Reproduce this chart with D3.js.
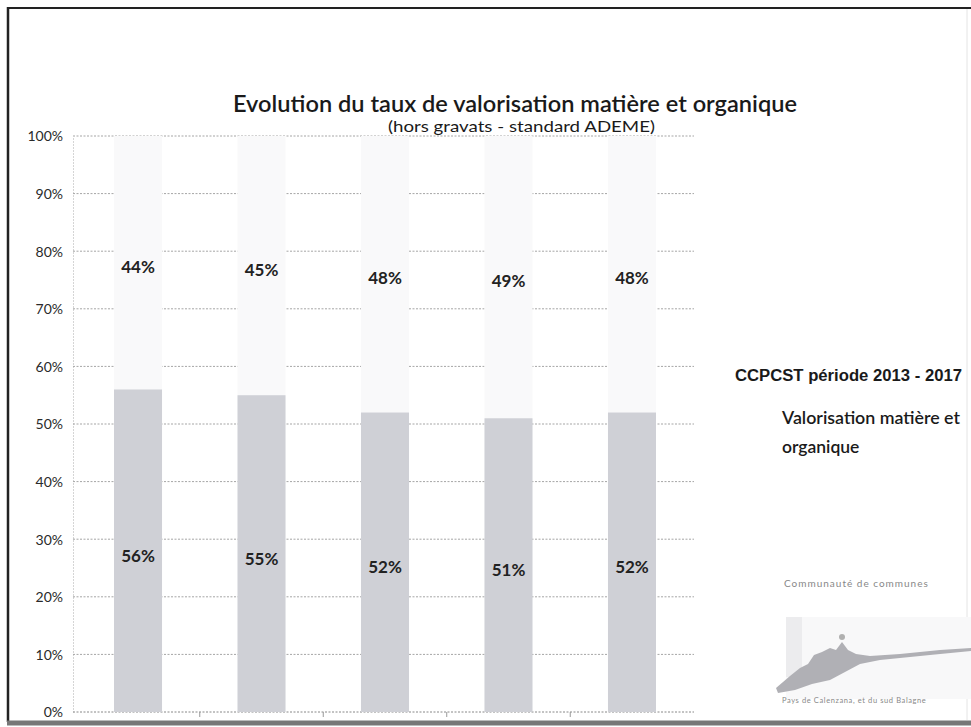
<!DOCTYPE html>
<html>
<head>
<meta charset="utf-8">
<script src="https://cdn.jsdelivr.net/npm/d3@7"></script>
<style>
  body { margin: 0; background: #fff; }
  svg { display: block; }
</style>
</head>
<body>
<svg id="chart"></svg>
<script>
// values
let years = ['2013', '2014', '2015', '2016', '2017'];
let valorisation = [56, 55, 52, 51, 52];
let reste = [44, 45, 48, 49, 48];
let yTicks = [0, 10, 20, 30, 40, 50, 60, 70, 80, 90, 100];

let W = 971, H = 727;
let svg = d3.select('#chart').attr('width', W).attr('height', H);
let font = 'Lato, "Open Sans", sans-serif';

// frame of the scanned page
svg.append('line').attr('x1', 7).attr('x2', W).attr('y1', 8).attr('y2', 8)
   .attr('stroke', '#222').attr('stroke-width', 2);
svg.append('line').attr('x1', 8).attr('x2', 8).attr('y1', 7).attr('y2', 722)
   .attr('stroke', '#222').attr('stroke-width', 2.5);
svg.append('line').attr('x1', 7).attr('x2', W).attr('y1', 723).attr('y2', 723)
   .attr('stroke', '#777').attr('stroke-width', 5);
svg.append('line').attr('x1', 967).attr('x2', 967).attr('y1', 9).attr('y2', 720)
   .attr('stroke', '#e4e4e4').attr('stroke-width', 1);

let x = d3.scaleBand().domain(years).range([73, 697]).paddingInner(0.611).paddingOuter(0.332);
let y = d3.scaleLinear().domain([0, 100]).range([712, 136]);

// gridlines
svg.append('g').selectAll('line').data(yTicks).enter().append('line')
   .attr('x1', 73).attr('x2', 694)
   .attr('y1', d => y(d)).attr('y2', d => y(d))
   .attr('stroke', (d) => d === 0 ? '#888' : '#a5a5a5')
   .attr('stroke-width', 1)
   .attr('stroke-dasharray', '2,1.5');

// y axis
let yAxis = d3.axisLeft(y).tickValues(yTicks).tickFormat(d => d + '%').tickSize(0).tickPadding(10);
let gy = svg.append('g').attr('transform', 'translate(73,0)').call(yAxis);
gy.select('.domain').attr('stroke', '#aaa').attr('stroke-dasharray', '1,2');
gy.selectAll('text').style('font-family', font).style('font-size', '14px')
  .style('fill', '#2a2a2a').attr('dy', '0.35em');

// small ticks on the x axis between bars
svg.append('g').selectAll('line').data(years.slice(1)).enter().append('line')
   .attr('x1', d => x(d) - x.step() * x.paddingInner() / 2)
   .attr('x2', d => x(d) - x.step() * x.paddingInner() / 2)
   .attr('y1', 712).attr('y2', 717)
   .attr('stroke', '#999');

// bars
svg.append('g').selectAll('rect').data(years).enter().append('rect')
   .attr('x', d => x(d))
   .attr('width', x.bandwidth())
   .attr('y', (d, i) => y(valorisation[i] + reste[i]))
   .attr('height', (d, i) => y(valorisation[i]) - y(valorisation[i] + reste[i]))
   .attr('fill', '#f9f9fa');

svg.append('g').selectAll('rect').data(years).enter().append('rect')
   .attr('x', d => x(d))
   .attr('width', x.bandwidth())
   .attr('y', (d, i) => y(valorisation[i]))
   .attr('height', (d, i) => y(0) - y(valorisation[i]))
   .attr('fill', '#cfd0d6');

// value labels
svg.append('g').selectAll('text').data(years).enter().append('text')
   .attr('x', d => x(d) + x.bandwidth() / 2)
   .attr('y', (d, i) => y(valorisation[i] / 2) + 11)
   .attr('text-anchor', 'middle')
   .style('font-family', font).style('font-weight', 'bold').style('font-size', '17px')
   .attr('fill', '#222')
   .text((d, i) => valorisation[i] + '%');

svg.append('g').selectAll('text').data(years).enter().append('text')
   .attr('x', d => x(d) + x.bandwidth() / 2)
   .attr('y', (d, i) => y(valorisation[i] + reste[i] / 2) + 10)
   .attr('text-anchor', 'middle')
   .style('font-family', font).style('font-weight', 'bold').style('font-size', '17px')
   .attr('fill', '#222')
   .text((d, i) => reste[i] + '%');

// titles
svg.append('text').attr('x', 233).attr('y', 112)
   .attr('textLength', 564).attr('lengthAdjust', 'spacingAndGlyphs')
   .style('font-family', font).style('font-size', '22px').style('font-weight', '600')
   .attr('fill', '#1a1a1a')
   .text('Evolution du taux de valorisation matière et organique');
svg.append('text').attr('x', 388).attr('y', 132)
   .attr('textLength', 267).attr('lengthAdjust', 'spacingAndGlyphs')
   .style('font-family', font).style('font-size', '16px')
   .attr('fill', '#1a1a1a')
   .text('(hors gravats - standard ADEME)');

// side legend
svg.append('text').attr('x', 735).attr('y', 381)
   .attr('textLength', 227).attr('lengthAdjust', 'spacingAndGlyphs')
   .style('font-family', '"Liberation Sans", Arial, sans-serif').style('font-size', '16px').style('font-weight', 'bold')
   .attr('fill', '#1a1a1a')
   .text('CCPCST période 2013 - 2017');
svg.append('text').attr('x', 782).attr('y', 424)
   .attr('textLength', 178).attr('lengthAdjust', 'spacingAndGlyphs')
   .style('font-family', font).style('font-size', '17.5px').style('font-weight', '600').attr('fill', '#1a1a1a')
   .text('Valorisation matière et');
svg.append('text').attr('x', 782).attr('y', 453)
   .style('font-family', font).style('font-size', '17.5px').style('font-weight', '600').attr('fill', '#1a1a1a')
   .text('organique');

// logo in the corner
let logo = svg.append('g');
logo.append('rect').attr('x', 786).attr('y', 617).attr('width', 185).attr('height', 82)
    .attr('fill', '#f8f8f9');
logo.append('rect').attr('x', 786).attr('y', 617).attr('width', 16).attr('height', 60)
    .attr('fill', '#ececee');
logo.append('text').attr('x', 784).attr('y', 587)
    .style('font-family', font).style('font-size', '10px').attr('fill', '#888')
    .attr('letter-spacing', 1)
    .text('Communauté de communes');
logo.append('path')
    .attr('d', 'M776,688 L790,676 L800,668 L808,664 L814,655 L822,652 L830,648 L836,650 L842,642 L848,650 L856,654 L870,656 L900,654 L940,650 L971,648 L971,651 L930,655 L880,660 L860,664 L845,672 L830,680 L812,684 L795,690 L778,693 Z')
    .attr('fill', '#b0b0b5');
logo.append('circle').attr('cx', 842).attr('cy', 637).attr('r', 3).attr('fill', '#b0b0b0');
logo.append('text').attr('x', 782).attr('y', 703)
    .style('font-family', font).style('font-size', '7.5px').attr('fill', '#888')
    .attr('letter-spacing', 0.6)
    .text('Pays de Calenzana, et du sud Balagne');
</script>
</body>
</html>
